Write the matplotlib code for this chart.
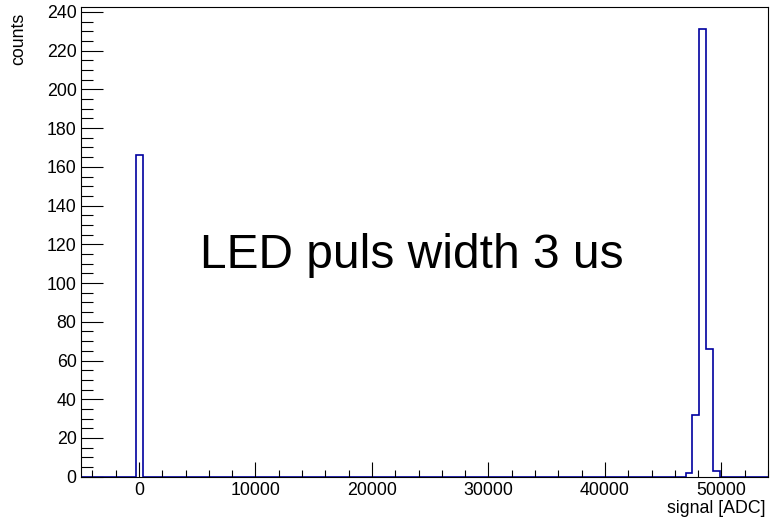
import numpy as np
import matplotlib
matplotlib.use("Agg")
import matplotlib.pyplot as plt
from matplotlib.ticker import MultipleLocator

plt.rcParams['font.family'] = ['Liberation Sans', 'DejaVu Sans']

# histogram binning (ADC)
n_bins = 100
x_lo = -5000
x_hi = 54000

# filled bins: bin centre -> counts
peak_centers = [15, 47215, 47805, 48395, 48985, 49575]
peak_counts = [166, 2, 32, 231, 66, 3]

edges = np.linspace(x_lo, x_hi, n_bins + 1)
counts = np.zeros(n_bins)
idx = np.digitize(peak_centers, edges) - 1
counts[idx] = peak_counts

fig = plt.figure(figsize=(7.7, 5.19), dpi=100)
ax = fig.add_axes([0.1048, 0.0815, 0.8926, 0.905])

ax.stairs(counts, edges, color='#0000a0', linewidth=1.2, baseline=0)

ax.set_xlim(x_lo, x_hi)
ax.set_ylim(0, 1.05 * max(peak_counts))

ax.xaxis.set_major_locator(MultipleLocator(10000))
ax.xaxis.set_minor_locator(MultipleLocator(2000))
ax.yaxis.set_major_locator(MultipleLocator(20))
ax.yaxis.set_minor_locator(MultipleLocator(5))

ax.tick_params(axis='both', which='both', direction='in', width=0.8, colors='black',
               labelsize=12.8, top=False, right=False)
ax.tick_params(axis='x', which='major', length=10.8, pad=4)
ax.tick_params(axis='x', which='minor', length=5.4)
ax.tick_params(axis='y', which='major', length=15.8, pad=3)
ax.tick_params(axis='y', which='minor', length=8.6)

for s in ax.spines.values():
    s.set_linewidth(0.8)

# axis titles pinned to the far ends, ROOT-style
fig.text(0.9945, 0.003, 'signal [ADC]', ha='right', va='bottom', fontsize=12.8)
fig.text(0.024, 0.976, 'counts', ha='center', va='top', rotation=90, fontsize=12.8)

ax.text(0.174, 0.445, 'LED puls width 3 us', fontsize=34.5, color='black',
        transform=ax.transAxes, ha='left', va='baseline')

fig.savefig('out.png', dpi=100)
